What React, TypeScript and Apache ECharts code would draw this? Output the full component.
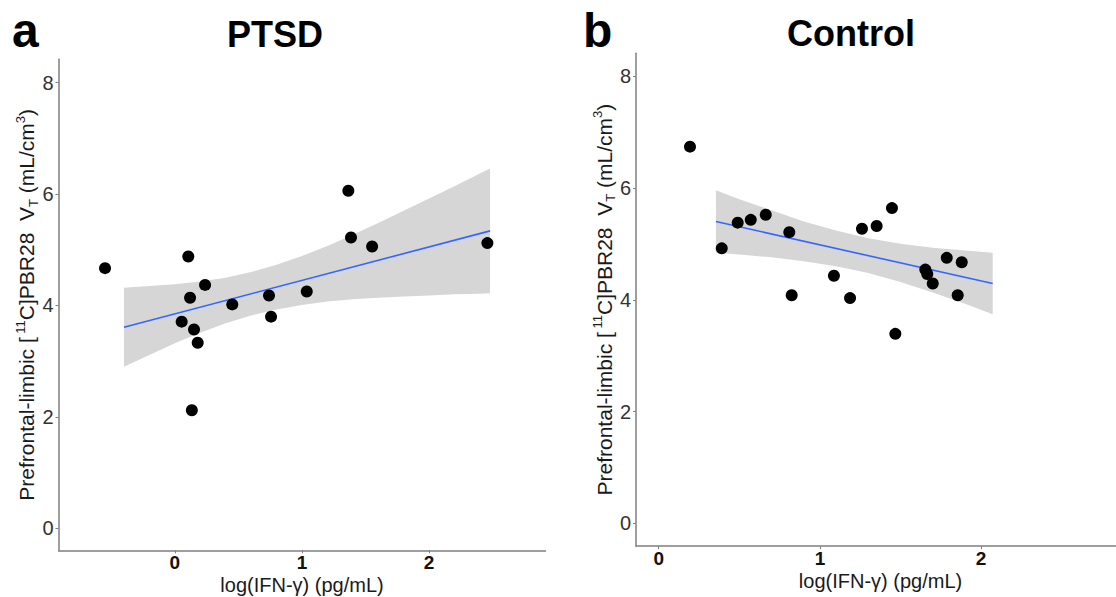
import React, { useEffect, useRef } from "react";
import * as echarts from "echarts";

// ---- Data ----
const ptsdX = [-0.549, 0.106, 0.238, 0.12, 0.452, 0.741, 1.038, 0.054, 0.151, 0.757, 0.18, 1.365, 1.386, 1.552, 2.459, 0.134];
const ptsdY = [4.67, 4.88, 4.37, 4.14, 4.02, 4.18, 4.25, 3.71, 3.57, 3.8, 3.33, 6.06, 5.22, 5.06, 5.12, 2.12];

const ctrlX = [0.391, 0.49, 0.571, 0.664, 0.81, 0.825, 1.087, 1.187, 1.261, 1.352, 1.447, 1.468, 1.654, 1.666, 1.7, 1.787, 1.855, 1.88, 0.194];
const ctrlY = [4.92, 5.38, 5.43, 5.52, 5.21, 4.08, 4.43, 4.03, 5.27, 5.32, 5.64, 3.39, 4.54, 4.46, 4.29, 4.75, 4.08, 4.67, 6.74];

const ptsdFitX = [-0.4, 2.48];
const ptsdFitY = [3.61, 5.34];
const ptsdBandX = [-0.4, -0.2, 0, 0.2, 0.4, 0.6, 0.8, 1.0, 1.2, 1.4, 1.6, 1.8, 2.0, 2.2, 2.4, 2.48];
const ptsdBandUpper = [4.32, 4.35, 4.38, 4.43, 4.5, 4.6, 4.73, 4.89, 5.07, 5.27, 5.48, 5.7, 5.92, 6.14, 6.37, 6.46];
const ptsdBandLower = [2.9, 3.11, 3.32, 3.51, 3.68, 3.82, 3.93, 4.01, 4.07, 4.11, 4.14, 4.16, 4.18, 4.2, 4.21, 4.22];

const ctrlFitX = [0.355, 2.072];
const ctrlFitY = [5.4, 4.29];
const ctrlBandX = [0.355, 0.5, 0.7, 0.9, 1.1, 1.3, 1.5, 1.7, 1.9, 2.072];
const ctrlBandUpper = [5.96, 5.8, 5.6, 5.4, 5.24, 5.1, 5.0, 4.93, 4.88, 4.84];
const ctrlBandLower = [4.84, 4.81, 4.76, 4.69, 4.6, 4.48, 4.32, 4.13, 3.93, 3.74];

const xTicks = [0, 1, 2];
const yTicks = [0, 2, 4, 6, 8];

const panelTitles = ["PTSD", "Control"];
const panelLetters = ["a", "b"];
const xTitle = "log(IFN-γ) (pg/mL)";

const FONT = "'Liberation Sans', Arial, Helvetica, sans-serif";

const yName = "{n|Prefrontal-limbic [}{sup| 11}{n|C]PBR28  V}{sub|T}{n| (mL/cm}{sup|3}{n|)}";

function bandRenderer(bx: number[], bu: number[], bl: number[]) {
  return (params: any, api: any) => {
    const pts: number[][] = [];
    for (let i = 0; i < bx.length; i++) pts.push(api.coord([bx[i], bu[i]]));
    for (let i = bx.length - 1; i >= 0; i--) pts.push(api.coord([bx[i], bl[i]]));
    return {
      type: "polygon",
      shape: { points: pts },
      style: { fill: "#d6d6d6" },
      silent: true,
    };
  };
}

function makeXAxis(gridIndex: number, min: number, max: number, padLeft: number) {
  return {
    type: "value",
    gridIndex,
    min,
    max,
    name: xTitle,
    nameLocation: "middle",
    nameGap: 24,
    nameMoveOverlap: false,
    nameTextStyle: {
      fontSize: 20,
      lineHeight: 21,
      color: "#1a1a1a",
      fontFamily: FONT,
      padding: [0, 0, 0, padLeft],
    },
    axisLine: { show: true, onZero: false, lineStyle: { color: "#7f7f7f", width: 1.5 } },
    axisTick: { show: true, length: 3, customValues: xTicks, lineStyle: { color: "#7f7f7f" } },
    axisLabel: {
      customValues: xTicks,
      fontSize: 19,
      lineHeight: 18,
      fontWeight: "bold",
      color: "#111",
      fontFamily: FONT,
      margin: 3,
    },
    splitLine: { show: false },
  };
}

function makeYAxis(gridIndex: number, min: number, max: number) {
  return {
    type: "value",
    gridIndex,
    min,
    max,
    name: yName,
    nameLocation: "middle",
    nameRotate: 90,
    nameGap: 19,
    nameMoveOverlap: false,
    nameTextStyle: {
      fontFamily: FONT,
      color: "#1a1a1a",
      rich: {
        n: { fontSize: 21, fontFamily: FONT, color: "#1a1a1a", lineHeight: 26 },
        sup: { fontSize: 13, fontFamily: FONT, color: "#1a1a1a", verticalAlign: "top", lineHeight: 13 },
        sub: { fontSize: 13, fontFamily: FONT, color: "#1a1a1a", verticalAlign: "bottom", lineHeight: 13 },
      },
    },
    axisLine: { show: true, onZero: false, lineStyle: { color: "#7f7f7f", width: 1.5 } },
    axisTick: { show: true, length: 3, customValues: yTicks, lineStyle: { color: "#7f7f7f" } },
    axisLabel: {
      customValues: yTicks,
      fontSize: 20,
      color: "#333",
      fontFamily: FONT,
      margin: 5,
    },
    splitLine: { show: false },
  };
}

export default function App() {
  const ref = useRef<HTMLDivElement>(null);

  useEffect(() => {
    if (!ref.current) return;
    const chart = echarts.init(ref.current, null, { renderer: "svg" });

    const option: any = {
      animation: false,
      backgroundColor: "#ffffff",
      grid: [
        { left: 58.5, top: 59.3, width: 487, height: 491, outerBoundsMode: "none", containLabel: false },
        { left: 636, top: 53.3, width: 480, height: 492.7, outerBoundsMode: "none", containLabel: false },
      ],
      xAxis: [makeXAxis(0, -0.915, 2.916, 0), makeXAxis(1, -0.141, 2.837, 9)],
      yAxis: [makeYAxis(0, -0.395, 8.42), makeYAxis(1, -0.406, 8.41)],
      graphic: [
        {
          type: "text",
          x: 12,
          y: 30,
          style: { text: panelLetters[0], fontSize: 48, fontWeight: "bold", fontFamily: FONT, fill: "#000", align: "left", verticalAlign: "middle" },
        },
        {
          type: "text",
          x: 583,
          y: 30,
          style: { text: panelLetters[1], fontSize: 48, fontWeight: "bold", fontFamily: FONT, fill: "#000", align: "left", verticalAlign: "middle" },
        },
        {
          type: "text",
          x: 275,
          y: 34,
          style: { text: panelTitles[0], fontSize: 36, fontWeight: "bold", fontFamily: FONT, fill: "#000", align: "center", verticalAlign: "middle" },
        },
        {
          type: "text",
          x: 851,
          y: 33.5,
          style: { text: panelTitles[1], fontSize: 36, fontWeight: "bold", fontFamily: FONT, fill: "#000", align: "center", verticalAlign: "middle" },
        },
      ],
      series: [
        {
          type: "custom",
          xAxisIndex: 0,
          yAxisIndex: 0,
          renderItem: bandRenderer(ptsdBandX, ptsdBandUpper, ptsdBandLower),
          data: [[ptsdBandX[0], ptsdBandUpper[0]]],
          z: 1,
          silent: true,
        },
        {
          type: "line",
          xAxisIndex: 0,
          yAxisIndex: 0,
          data: ptsdFitX.map((x, i) => [x, ptsdFitY[i]]),
          symbol: "none",
          lineStyle: { color: "#3366ff", width: 1.6 },
          z: 2,
          silent: true,
        },
        {
          type: "scatter",
          xAxisIndex: 0,
          yAxisIndex: 0,
          data: ptsdX.map((x, i) => [x, ptsdY[i]]),
          symbol: "circle",
          symbolSize: 12,
          itemStyle: { color: "#000", opacity: 1 },
          z: 3,
        },
        {
          type: "custom",
          xAxisIndex: 1,
          yAxisIndex: 1,
          renderItem: bandRenderer(ctrlBandX, ctrlBandUpper, ctrlBandLower),
          data: [[ctrlBandX[0], ctrlBandUpper[0]]],
          z: 1,
          silent: true,
        },
        {
          type: "line",
          xAxisIndex: 1,
          yAxisIndex: 1,
          data: ctrlFitX.map((x, i) => [x, ctrlFitY[i]]),
          symbol: "none",
          lineStyle: { color: "#3366ff", width: 1.6 },
          z: 2,
          silent: true,
        },
        {
          type: "scatter",
          xAxisIndex: 1,
          yAxisIndex: 1,
          data: ctrlX.map((x, i) => [x, ctrlY[i]]),
          symbol: "circle",
          symbolSize: 12,
          itemStyle: { color: "#000", opacity: 1 },
          z: 3,
        },
      ],
    };

    chart.setOption(option);
    return () => {
      chart.dispose();
    };
  }, []);

  return (
    <div
      ref={ref}
      style={{ position: "absolute", left: 0, top: 0, width: 1116, height: 597, background: "#fff" }}
    />
  );
}
